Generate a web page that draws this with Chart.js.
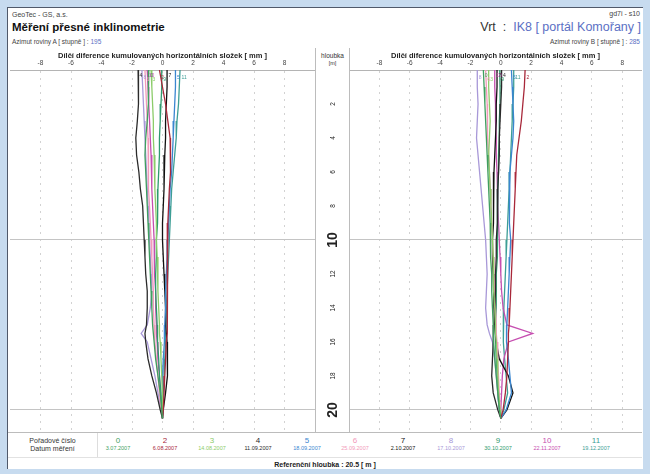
<!DOCTYPE html>
<html>
<head>
<meta charset="utf-8">
<script src="https://cdn.jsdelivr.net/npm/chart.js@4.4.1/dist/chart.umd.min.js"></script>
<style>
    body { margin: 0; width: 650px; height: 474px; background: #c7dbef; font-family: "Liberation Sans", Arial, sans-serif; position: relative; overflow: hidden; }
    #page { position: absolute; left: 7px; top: 7px; width: 635px; height: 461px; background: #fff; border-top: 1px solid #50596a; border-left: 1px solid #50596a; }
    .t { position: absolute; white-space: nowrap; color: #222; line-height: 1; }
    .blue { color: #5b70c4; }
    .ln { position: absolute; background: #bcbcbc; }
    canvas { position: absolute; }
</style>
</head>
<body>
<div id="page"></div>

<div class="t" style="left:12px;top:11px;font-size:7px;color:#444">GeoTec - GS, a.s.</div>
<div class="t" style="left:12px;top:22px;font-size:11.5px;font-weight:bold;color:#111">Měření přesné inklinometrie</div>
<div class="t" style="left:12px;top:39px;font-size:6.5px;color:#444">Azimut roviny A [ stupně ] : <span class="blue">195</span></div>

<div class="t" style="right:10px;top:10px;font-size:7px;color:#444">gd7i - s10</div>
<div class="t" style="right:9px;top:21px;font-size:12.5px;color:#333">Vrt&nbsp;&nbsp;:&nbsp;&nbsp;<span class="blue">IK8 [ portál Komořany ]</span></div>
<div class="t" style="right:10px;top:39px;font-size:6.5px;color:#444">Azimut roviny B [ stupně ] : <span class="blue">285</span></div>

<div class="t" style="left:316px;width:33px;text-align:center;top:53px;font-size:6.5px;color:#333">hloubka</div>
<div class="t" style="left:316px;width:33px;text-align:center;top:61px;font-size:5.5px;color:#333">[m]</div>
<div class="ln" style="left:315px;top:48px;width:1px;height:22px"></div>
<div class="ln" style="left:349px;top:48px;width:1px;height:22px"></div>

<canvas id="chartA" width="341" height="386" style="left:8px;top:46px"></canvas>
<canvas id="chartB" width="293" height="386" style="left:349px;top:46px"></canvas>

<div class="ln" style="left:8px;top:432px;width:634px;height:1px"></div>
<div class="ln" style="left:97px;top:433px;width:1px;height:24px;background:#ddd"></div>
<div class="ln" style="left:8px;top:457px;width:634px;height:1px;background:#e2e2e2"></div>
<div class="t" style="left:8px;width:89px;text-align:center;top:437px;font-size:7px;color:#333">Pořadové číslo</div>
<div class="t" style="left:8px;width:89px;text-align:center;top:445px;font-size:7px;color:#333">Datum měření</div>
<div id="legend"></div>
<div class="t" style="left:0;width:650px;text-align:center;top:461px;font-size:7px;font-weight:bold;color:#222">Referenční hloubka : 20.5 [ m ]</div>

<script>
// depth of the measuring points [m]
const depths = [0, 1, 2, 3, 4, 5, 6, 7, 8, 9, 10, 11, 12, 13, 14, 15, 15.5, 16, 17, 18, 19, 20, 20.5];

// measurement numbers, dates and colours
const seriesNums = ['0', '2', '3', '4', '5', '6', '7', '8', '9', '10', '11'];
const seriesDates = ['3.07.2007', '6.08.2007', '14.08.2007', '11.09.2007', '18.09.2007', '25.09.2007',
    '2.10.2007', '17.10.2007', '30.10.2007', '22.11.2007', '19.12.2007'];
const seriesColors = ['#3f9f5f', '#a8283a', '#8ccc6a', '#2a2a2a', '#3a86d0', '#f29ab9',
    '#111111', '#a898d8', '#2e9a6e', '#c64eb0', '#3d9e95'];

// plane A [mm]
const a0  = [-0.9, -0.9, -0.95, -1.0, -1.1, -1.15, -1.1, -1.05, -1.0, -0.95, -0.9, -0.85, -0.8, -0.75, -0.7, -0.65, -0.6, -0.55, -0.45, -0.3, -0.15, -0.05, 0];
const a2  = [-0.2, 0.0, 0.2, 0.35, 0.5, 0.55, 0.5, 0.45, 0.4, 0.35, 0.3, 0.3, 0.3, 0.35, 0.35, 0.3, 0.3, 0.25, 0.2, 0.15, 0.1, 0.05, 0];
const a3  = [-0.75, -0.7, -0.65, -0.6, -0.6, -0.55, -0.5, -0.5, -0.45, -0.4, -0.4, -0.35, -0.3, -0.3, -0.25, -0.2, -0.2, -0.15, -0.1, -0.05, 0, 0, 0];
const a4  = [-1.6, -1.6, -1.55, -1.65, -1.75, -1.7, -1.55, -1.45, -1.3, -1.25, -1.2, -1.15, -1.1, -1.0, -1.0, -1.05, -1.15, -1.1, -0.95, -0.7, -0.4, -0.15, 0];
const a5  = [0.85, 0.85, 0.8, 0.75, 0.7, 0.65, 0.6, 0.5, 0.45, 0.4, 0.35, 0.3, 0.25, 0.2, 0.2, 0.15, 0.15, 0.1, 0.05, 0, 0, 0, 0];
const a6  = [-1.15, -1.1, -1.05, -1.0, -0.95, -0.95, -0.9, -0.9, -0.85, -0.8, -0.75, -0.7, -0.65, -0.6, -0.6, -0.55, -0.5, -0.5, -0.4, -0.3, -0.2, -0.1, 0];
const a7  = [0.3, 0.3, 0.25, 0.2, 0.2, 0.15, 0.1, 0.1, 0.05, 0, 0, 0.05, 0.1, 0.15, 0.2, 0.2, 0.25, 0.3, 0.35, 0.3, 0.2, 0.05, 0];
const a8  = [-1.35, -1.3, -1.25, -1.2, -1.15, -1.1, -1.05, -1.0, -0.95, -0.9, -0.85, -0.8, -0.75, -0.7, -0.8, -1.0, -1.4, -1.0, -0.75, -0.5, -0.3, -0.1, 0];
const a9  = [-0.05, -0.05, -0.1, -0.15, -0.2, -0.2, -0.25, -0.3, -0.3, -0.35, -0.4, -0.4, -0.45, -0.45, -0.4, -0.35, -0.35, -0.3, -0.25, -0.2, -0.1, -0.05, 0];
const a10 = [-1.0, -0.95, -0.9, -0.85, -0.8, -0.75, -0.7, -0.7, -0.65, -0.6, -0.55, -0.55, -0.5, -0.45, -0.45, -0.4, -0.4, -0.35, -0.3, -0.2, -0.15, -0.05, 0];
const a11 = [1.15, 1.1, 1.05, 0.95, 0.9, 0.8, 0.7, 0.6, 0.55, 0.5, 0.45, 0.4, 0.35, 0.3, 0.25, 0.25, 0.2, 0.2, 0.15, 0.1, 0.05, 0, 0];

// plane B [mm]
const b0  = [-1.15, -1.1, -1.05, -1.0, -0.95, -0.9, -0.85, -0.8, -0.75, -0.7, -0.7, -0.65, -0.6, -0.6, -0.55, -0.5, -0.5, -0.45, -0.4, -0.3, -0.2, -0.1, 0];
const b2  = [1.6, 1.55, 1.45, 1.35, 1.2, 1.05, 1.0, 0.95, 0.9, 0.85, 0.8, 0.75, 0.7, 0.65, 0.6, 0.55, 0.5, 0.5, 0.45, 0.4, 0.3, 0.15, 0];
const b3  = [-0.8, -0.8, -0.75, -0.7, -0.75, -0.8, -0.75, -0.7, -0.65, -0.6, -0.55, -0.5, -0.5, -0.45, -0.4, -0.35, -0.35, -0.3, -0.25, -0.2, -0.15, -0.05, 0];
const b4  = [0.05, 0.05, 0.0, -0.05, -0.1, -0.1, -0.15, -0.2, -0.2, -0.25, -0.3, -0.3, -0.35, -0.35, -0.4, -0.45, -0.5, -0.5, -0.55, -0.6, -0.5, -0.2, 0];
const b5  = [0.7, 0.75, 0.8, 0.85, 0.8, 0.7, 0.6, 0.55, 0.55, 0.6, 0.65, 0.6, 0.55, 0.5, 0.45, 0.4, 0.4, 0.35, 0.5, 0.6, 0.7, 0.35, 0];
const b6  = [-1.0, -0.95, -0.9, -0.9, -0.85, -0.8, -0.75, -0.7, -0.65, -0.6, -0.55, -0.5, -0.45, -0.4, -0.35, -0.3, -0.3, -0.25, -0.2, -0.15, -0.1, -0.05, 0];
const b7  = [-0.25, -0.25, -0.3, -0.3, -0.35, -0.4, -0.45, -0.45, -0.5, -0.5, -0.55, -0.55, -0.5, -0.45, -0.45, -0.4, -0.35, -0.3, -0.1, 0.5, 0.8, 0.4, 0];
const b8  = [-1.55, -1.55, -1.5, -1.55, -1.6, -1.5, -1.4, -1.3, -1.2, -1.1, -1.0, -0.95, -0.9, -0.95, -1.0, -0.9, -0.75, -0.55, -0.4, -0.3, -0.2, -0.1, 0];
const b9  = [-0.07, -0.05, -0.05, -0.1, -0.1, -0.15, -0.15, -0.2, -0.2, -0.2, -0.25, -0.25, -0.3, -0.3, -0.3, -0.35, -0.35, -0.35, -0.3, -0.25, -0.2, -0.1, 0];
const b10 = [-0.4, -0.4, -0.35, -0.35, -0.3, -0.3, -0.25, -0.2, -0.2, -0.15, -0.1, -0.05, 0, 0.05, 0.15, 0.4, 2.1, 0.5, 0.2, 0.1, 0.05, 0, 0];
const b11 = [0.85, 0.85, 0.8, 0.75, 0.7, 0.65, 0.6, 0.55, 0.5, 0.45, 0.4, 0.35, 0.3, 0.25, 0.2, 0.2, 0.15, 0.15, 0.25, 0.35, 0.45, 0.2, 0];

const xTicks = [-8, -6, -4, -2, 0, 2, 4, 6, 8];
const depthTicks = [2, 4, 6, 8, 10, 12, 14, 16, 18, 20];
const depthMax = 21.3;

const planeA = [a0, a2, a3, a4, a5, a6, a7, a8, a9, a10, a11];
const planeB = [b0, b2, b3, b4, b5, b6, b7, b8, b9, b10, b11];

function buildDatasets(series) {
    return series.map((vals, i) => ({
        label: seriesNums[i],
        data: vals.map((v, k) => ({ x: v, y: depths[k] })),
        borderColor: seriesColors[i],
        backgroundColor: seriesColors[i],
        borderWidth: 1.3,
        pointRadius: 0,
        showLine: true,
        tension: 0
    }));
}

// small number written at the head of every profile
const headLabels = {
    id: 'headLabels',
    afterDatasetsDraw(chart) {
        const ctx = chart.ctx;
        ctx.save();
        ctx.font = '5px "Liberation Sans", Arial, sans-serif';
        ctx.textBaseline = 'middle';
        chart.data.datasets.forEach((ds, i) => {
            const p = chart.getDatasetMeta(i).data[0];
            if (!p) return;
            ctx.fillStyle = ds.borderColor;
            ctx.fillText(ds.label, p.x + 1.5, p.y + 6 + (i % 3) * 2);
        });
        ctx.restore();
    }
};

function xScale(min, max) {
    return {
        type: 'linear',
        position: 'top',
        min: min,
        max: max,
        afterBuildTicks: axis => { axis.ticks = xTicks.map(v => ({ value: v })); },
        afterFit: axis => { axis.height = 24; },
        ticks: { font: { size: 6.5 }, color: '#444', padding: 3, maxRotation: 0 },
        grid: { color: '#d2d2d2', drawTicks: false, lineWidth: 1 },
        border: { display: true, color: '#b4b4b4', dash: [2, 5] },
        title: {
            display: true,
            text: 'Dílčí diference kumulovaných horizontálních složek [ mm ]',
            font: { size: 7.5, weight: 'bold' },
            color: '#222',
            padding: { top: 5, bottom: 0 }
        }
    };
}

const depthGrid = {
    color: ctx => (ctx.tick && (ctx.tick.value === 10 || ctx.tick.value === 20)) ? '#c4c4c4' : 'rgba(0,0,0,0)',
    drawTicks: false
};

function depthFit(width) {
    return axis => {
        axis.width = width;
        axis.paddingTop = 0;
        axis.paddingBottom = 0;
    };
}

Chart.defaults.font.family = '"Liberation Sans", Arial, sans-serif';

const commonOptions = {
    responsive: false,
    animation: false,
    events: [],
    plugins: { legend: { display: false }, tooltip: { enabled: false } }
};

new Chart(document.getElementById('chartA'), {
    type: 'scatter',
    data: { datasets: buildDatasets(planeA) },
    plugins: [headLabels],
    options: {
        ...commonOptions,
        layout: { padding: { left: 2, right: 0, top: 0, bottom: 0 } },
        scales: {
            x: xScale(-10, 10),
            y: {
                type: 'linear',
                position: 'right',
                reverse: true,
                min: 0,
                max: depthMax,
                afterBuildTicks: axis => { axis.ticks = depthTicks.map(v => ({ value: v })); },
                afterFit: depthFit(34),
                ticks: {
                    minRotation: 90,
                    maxRotation: 90,
                    crossAlign: 'center',
                    padding: 10,
                    color: '#222',
                    font: ctx => (ctx.tick && ctx.tick.value % 10 === 0) ? { size: 14, weight: 'bold' } : { size: 6.5 }
                },
                grid: depthGrid,
                border: { display: true, color: '#bcbcbc' }
            }
        }
    }
});

new Chart(document.getElementById('chartB'), {
    type: 'scatter',
    data: { datasets: buildDatasets(planeB) },
    plugins: [headLabels],
    options: {
        ...commonOptions,
        layout: { padding: 0 },
        scales: {
            x: xScale(-10, 9.3),
            y: {
                type: 'linear',
                position: 'left',
                reverse: true,
                min: 0,
                max: depthMax,
                afterBuildTicks: axis => { axis.ticks = depthTicks.map(v => ({ value: v })); },
                afterFit: depthFit(0),
                ticks: { display: false },
                grid: depthGrid,
                border: { display: true, color: '#bcbcbc' }
            }
        }
    }
});

// legend row: number and date of each measurement
const legendCenters = [118, 165, 212, 258, 307, 355, 403, 451, 498, 547, 596];
const legend = document.getElementById('legend');
seriesNums.forEach((num, i) => {
    const boxLeft = legendCenters[i] - 24;
    legend.insertAdjacentHTML('beforeend',
        `<div class="t" style="left:${boxLeft}px;width:48px;text-align:center;top:437px;font-size:8px;color:${seriesColors[i]}">${num}</div>` +
        `<div class="t" style="left:${boxLeft}px;width:48px;text-align:center;top:446px;font-size:5.5px;color:${seriesColors[i]}">${seriesDates[i]}</div>`);
});
</script>
</body>
</html>
